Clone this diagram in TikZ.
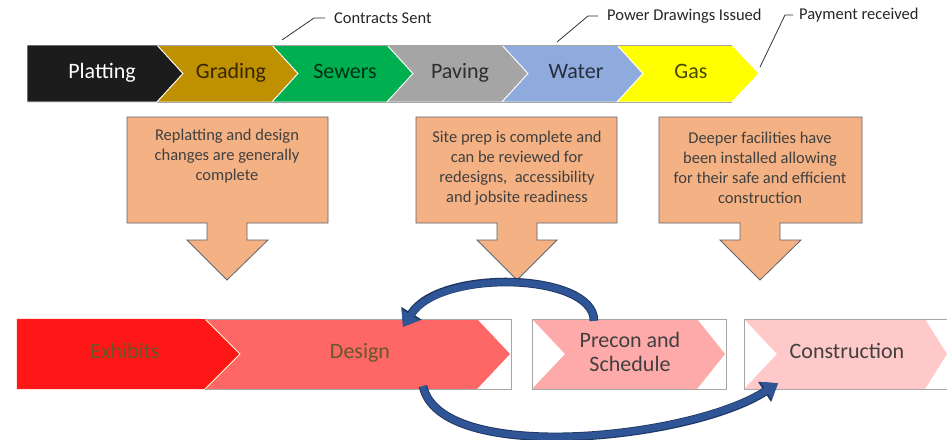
\documentclass[tikz,border=0pt]{standalone}
\usepackage{fontspec}
\setmainfont{Carlito}
\usetikzlibrary{arrows.meta,calc}
\definecolor{cplat}{HTML}{1C1C1C}
\definecolor{cgrad}{HTML}{BF9000}
\definecolor{csew}{HTML}{00B050}
\definecolor{cpav}{HTML}{A5A5A5}
\definecolor{cwat}{HTML}{8FAADC}
\definecolor{cgas}{HTML}{FFFF00}
\definecolor{cexh}{HTML}{FF1616}
\definecolor{cdes}{HTML}{FF6666}
\definecolor{cpre}{HTML}{FFAAAA}
\definecolor{ccon}{HTML}{FFC9C9}
\definecolor{ccall}{HTML}{F4B183}
\definecolor{ccallb}{HTML}{5E6470}
\definecolor{cblue}{HTML}{2F5597}
\definecolor{cnavy}{HTML}{1F3864}
\definecolor{ctxt}{HTML}{404040}
\definecolor{cbtxt}{HTML}{65582A}
\begin{document}
\begin{tikzpicture}[x=1pt,y=-1pt,
  chev/.style={draw=white,line width=0.8pt},
  bigtxt/.style={font=\fontsize{22}{24}\selectfont,inner sep=0pt,text height=15pt,text depth=4pt},
  toptxt/.style={bigtxt,text=black,text opacity=0.72},
  anno/.style={font=\fontsize{16.5}{20}\selectfont,text=black!85,anchor=west,inner sep=1pt},
  leader/.style={draw=black!80,line width=0.8pt},
  callout/.style={fill=ccall,draw=ccallb,line width=0.8pt},
  calltxt/.style={font=\fontsize{16.5}{20}\selectfont,text=ctxt,align=center,anchor=north,inner sep=0pt},
  framebox/.style={minimum height=70pt,inner sep=0pt},
  frameline/.style={draw=black!35,line width=0.6pt},
  bluearrow/.style={line width=6.6pt,draw=cblue,-{Triangle[width=20pt,length=14pt]}},
  bluearrowout/.style={line width=8.6pt,draw=cnavy,-{Triangle[width=23pt,length=16pt]}}
]
\useasboundingbox[fill=white] (0,0) rectangle (947,439);

% ---------- top chevrons ----------
\fill[cplat,chev] (27,45) -- (157,45) -- (183,73.5) -- (157,102) -- (27,102) -- cycle;
\fill[cgrad,chev] (157,45) -- (272,45) -- (298,73.5) -- (272,102) -- (157,102) -- (183,73.5) -- cycle;
\fill[csew,chev] (272,45) -- (387,45) -- (413,73.5) -- (387,102) -- (272,102) -- (298,73.5) -- cycle;
\fill[cpav,chev] (387,45) -- (502,45) -- (528,73.5) -- (502,102) -- (387,102) -- (413,73.5) -- cycle;
\fill[cwat,chev] (502,45) -- (617,45) -- (643,73.5) -- (617,102) -- (502,102) -- (528,73.5) -- cycle;
\fill[cgas,chev] (617,45) -- (732,45) -- (759,73.5) -- (732,102) -- (617,102) -- (643,73.5) -- cycle;
\draw[black!35,line width=0.7pt] (157,45) -- (732,45) (157,102) -- (732,102);

\node[bigtxt,text=white] (platting) at (102,73) {Platting};
\node[toptxt] (grading) at (231,73) {Grading};
\node[toptxt] (sewers) at (345,73) {Sewers};
\node[toptxt] (paving) at (460,73) {Paving};
\node[toptxt] (water) at (576,73) {Water};
\node[toptxt] (gas) at (691,73) {Gas};

% ---------- annotations ----------
\node[anno] (contracts) at (333,18) {Contracts Sent};
\node[anno] (power) at (606,16) {Power Drawings Issued};
\node[anno] (payment) at (798,15) {Payment received};
\coordinate (csend) at (282,40);
\coordinate (pwend) at (557,42);
\coordinate (payend) at (760,67);
\draw[leader] ($(contracts.west)+(-8,0)$) -- ++(-11,0) -- (csend);
\draw[leader] ($(power.west)+(-8,0)$) -- ++(-10,0) -- (pwend);
\draw[leader] ($(payment.west)+(-5,0)$) -- ++(-8,0) -- (payend);

% ---------- callouts ----------
\path[callout] (127,117) -- (328,117) -- (328,223) -- (247,223) -- (247,240) -- (268,240) -- (227,280) -- (187,240) -- (207,240) -- (207,223) -- (127,223) -- cycle;
\path[callout] (416,117) -- (617,117) -- (617,223) -- (537,223) -- (537,240) -- (557,240) -- (517,280) -- (477,240) -- (497,240) -- (497,223) -- (416,223) -- cycle;
\path[callout] (659,117) -- (862,117) -- (862,223) -- (780,223) -- (780,240) -- (801,240) -- (760,280) -- (720,240) -- (740,240) -- (740,223) -- (659,223) -- cycle;
\node[calltxt] (c1) at (227,129) {Replatting and design\\changes are generally\\complete};
\node[calltxt] (c2) at (517,131) {Site prep is complete and\\can be reviewed for\\redesigns,\ \ accessibility\\and jobsite readiness};
\node[calltxt] (c3) at (760,132) {Deeper facilities have\\been installed allowing\\for their safe and efficient\\construction};

% ---------- bottom chevrons ----------
\node[framebox,minimum width=188pt] (exhibitsf) at (111,354) {};
\node[framebox,minimum width=306pt] (design) at (358,354) {};
\node[framebox,minimum width=194pt] (precon) at (629,354) {};
\node[framebox,minimum width=206pt] (construction) at (847,354) {};

\fill[cexh] (exhibitsf.north west) -- (205,319) -- (240,354) -- (205,389) -- (exhibitsf.south west) -- cycle;
\fill[cdes] (205,319) -- (477,319) -- (510,354) -- (477,389) -- (205,389) -- (240,354) -- cycle;
\draw[white!80!yellow,line width=0.8pt] (205,319) -- (240,354) -- (205,389);
\fill[cpre] (532,319) -- (697,319) -- (725,354) -- (697,389) -- (532,389) -- (565,354) -- cycle;
\fill[ccon] (744,319) -- (925,319) -- (947,354) -- (925,389) -- (744,389) -- (777,354) -- cycle;

\draw[frameline] (design.north west) -- (design.north east) -- (design.south east) -- (design.south west);
\draw[frameline] (precon.north west) rectangle (precon.south east);
\draw[frameline] (construction.north west) rectangle (construction.south east);

\node[bigtxt,text=cbtxt] (exhibits) at (125,353) {Exhibits};
\node[bigtxt,text=cbtxt] (designt) at (360,353) {Design};
\node[font=\fontsize{22}{23.5}\selectfont,text=ctxt,align=center,inner sep=0pt] (precont) at (630,352) {Precon and\\Schedule};
\node[bigtxt,text=ctxt] (constructiont) at (847,353) {Construction};

% ---------- curved arrows ----------
\draw[bluearrowout] ($(precon.north)+(-35,2)$) .. controls +(0,-48) and (440,268) .. ($(design.north)+(45,8)$);
\draw[bluearrow] ($(precon.north)+(-35,2)$) .. controls +(0,-48) and (440,268) .. ($(design.north)+(45,8)$);
\draw[bluearrowout] ($(design.south)+(65,-3)$) .. controls (440,465) and (690,440) .. ($(construction.south)+(-69,-6)$);
\draw[bluearrow] ($(design.south)+(65,-3)$) .. controls (440,465) and (690,440) .. ($(construction.south)+(-69,-6)$);
\end{tikzpicture}
\end{document}
